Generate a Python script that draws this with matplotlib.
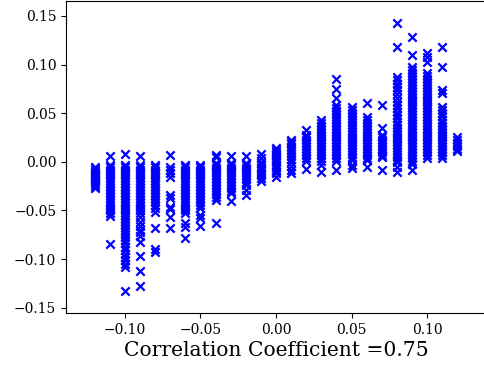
import numpy as np
import matplotlib
matplotlib.use("Agg")
import matplotlib.pyplot as plt

plt.rcParams["font.family"] = "DejaVu Serif"

# x positions of the columns (correlation of each sample)
x_values = [-0.12, -0.11, -0.10, -0.09, -0.08, -0.07, -0.06, -0.05, -0.04,
            -0.03, -0.02, -0.01, 0.00, 0.01, 0.02, 0.03, 0.04, 0.05, 0.06,
            0.07, 0.08, 0.09, 0.10, 0.11, 0.12]

# y values per column, in thousandths
y_columns = [
    [-5, -7, -9, -11, -13, -15, -17, -19, -21, -23, -25, -27],
    [6, -3, -5, -8, -11, -14, -17, -20, -23, -26, -29, -32, -35, -38, -41,
     -44, -47, -50, -53, -56, -85],
    [8, -3, -5, -8, -11, -14, -17, -20, -23, -26, -29, -32, -35, -38, -41,
     -44, -47, -50, -53, -56, -59, -62, -65, -68, -71, -74, -77, -80, -84,
     -88, -91, -95, -98, -101, -105, -108, -133],
    [6, -3, -5, -8, -11, -14, -17, -20, -23, -26, -29, -32, -35, -38, -41,
     -44, -47, -50, -53, -57, -62, -66, -70, -72, -76, -82, -97, -112, -128],
    [-3, -5, -8, -11, -14, -17, -20, -23, -26, -29, -32, -35, -38, -41, -44,
     -48, -52, -68, -90, -93],
    [7, -5, -8, -12, -16, -34, -37, -46, -49, -57, -68],
    [-3, -5, -8, -11, -14, -17, -20, -23, -26, -29, -32, -35, -38, -41, -44,
     -47, -50, -53, -63, -67, -78],
    [-3, -5, -8, -11, -14, -17, -20, -23, -26, -29, -32, -35, -38, -41, -44,
     -47, -55, -58, -66],
    [7, 5, -1, -3, -6, -9, -12, -15, -18, -21, -24, -27, -30, -33, -36, -39,
     -63],
    [6, -1, -3, -6, -9, -12, -15, -18, -21, -24, -27, -30, -32, -40],
    [6, -1, -3, -6, -9, -12, -15, -18, -21, -24, -29, -34],
    [8, 4, 0, -2, -5, -8, -11, -14, -17, -20],
    [14, 12, 10, 8, 6, 4, 2, 0, -3, -6, -9, -11, -16],
    [22, 20, 18, 15, 12, 9, 6, 3, 0, -4, -8, -11],
    [33, 28, 25, 22, 19, 16, 13, 10, 7, 4, 1, -7],
    [43, 40, 37, 34, 31, 28, 25, 22, 19, 16, 13, 10, 7, 4, 1, -3, -10],
    [85, 75, 66, 58, 55, 52, 49, 46, 43, 40, 37, 34, 31, 28, 25, 22, 19, 16,
     13, 10, 7, 4, 1, -8],
    [56, 53, 50, 47, 44, 41, 38, 35, 32, 29, 26, 23, 20, 17, 14, 11, 8, 5, 2,
     -3, -6],
    [60, 46, 43, 40, 37, 34, 31, 28, 25, 22, 19, 16, 13, 10, 7, 4, 2, -5],
    [58, 35, 28, 25, 22, 19, 16, 13, 10, 7, 5, -8],
    [143, 118, 87, 84, 80, 77, 74, 70, 66, 62, 58, 55, 51, 48, 45, 41, 38, 35,
     32, 29, 26, 23, 20, 17, 14, 11, 8, 5, 2, 0, -5, -10],
    [128, 110, 97, 94, 91, 88, 85, 82, 79, 76, 73, 70, 67, 64, 61, 58, 55, 52,
     49, 46, 43, 40, 37, 34, 31, 28, 25, 22, 19, 16, 13, 10, 7, 4, 1, -2, -8],
    [112, 108, 103, 91, 88, 85, 82, 79, 76, 73, 70, 67, 64, 61, 58, 55, 52, 49,
     46, 43, 40, 37, 34, 31, 28, 25, 22, 19, 16, 13, 10, 7, 4],
    [118, 97, 74, 71, 56, 53, 50, 47, 43, 40, 37, 34, 31, 28, 25, 22, 19, 16,
     13, 10, 7, 4],
    [26, 22, 19, 16, 13, 11],
]

xlabel = "Correlation Coefficient =0.75"

xs = []
ys = []
for xv, col in zip(x_values, y_columns):
    xs.extend([xv] * len(col))
    ys.extend([v / 1000.0 for v in col])

fig = plt.figure(figsize=(4.84, 3.66), dpi=100)
ax = fig.add_axes([66 / 484, 53 / 366, 420 / 484, 312.5 / 366])
ax.scatter(xs, ys, marker="x", color="blue", linewidths=1.6)

ax.set_xlim(-0.139, 0.139)
ax.set_ylim(-0.1555, 0.1659)
ax.set_xticks([-0.10, -0.05, 0.00, 0.05, 0.10])
ax.set_yticks([-0.15, -0.10, -0.05, 0.00, 0.05, 0.10, 0.15])
ax.tick_params(labelsize=10)
ax.set_xlabel(xlabel, fontsize=14.6, labelpad=3)

fig.savefig("out.png", dpi=100)
